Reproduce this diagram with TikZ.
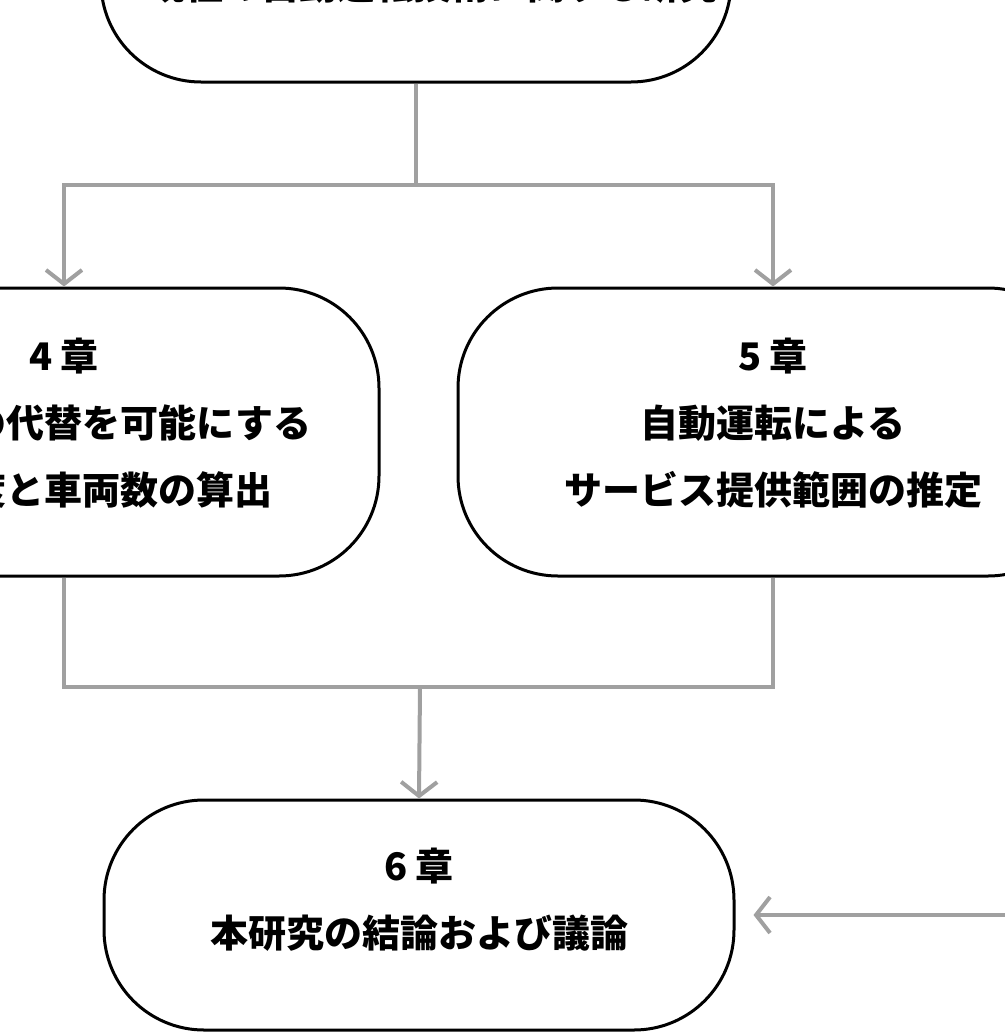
\documentclass[tikz,border=0pt]{standalone}
\usepackage{fontspec}
\usepackage{tikz}
\usetikzlibrary{arrows.meta,positioning}
\newfontfamily\cjk{Noto Sans CJK JP}
\definecolor{flowgray}{RGB}{160,160,160}

\tikzset{
	chap/.style={draw,line width=3pt,rounded corners=100pt,minimum width=630pt,minimum height=288pt,
		align=center,text depth=21pt,font=\cjk\bfseries\fontsize{38}{67}\selectfont},
	flow/.style={draw=flowgray,line width=4pt},
	tip/.style={-{Straight Barb[length=14pt,width=36pt]}}
}

\begin{document}
\begin{tikzpicture}[x=1pt,y=-1pt]
	\useasboundingbox (0,0) rectangle (1004,1036);
	\node[chap] (ch3) at (416,-62) {};
	\node[font=\cjk\bfseries\fontsize{38}{67}\selectfont] (ch3text) at (432,-15) {既往の自動運転技術に関する研究};
	\node[chap] (ch4) at (64,432) {4 章\\路線バスの代替を可能にする\\運行頻度と車両数の算出};
	\node[chap] (ch5) at (773,432) {5 章\\自動運転による\\サービス提供範囲の推定};
	\node[chap,minimum height=230pt,text depth=35pt] (ch6) at (419,915) {6 章\\本研究の結論および議論};
	\coordinate (fork) at (416,185);
	\coordinate (join) at (420,687);
	\coordinate (feed) at (1012,915);
	\draw[flow] (ch3.south) -- (fork);
	\draw[flow,tip] (fork) -| (ch4.north);
	\draw[flow,tip] (fork) -| (ch5.north);
	\draw[flow] (ch4.south) |- (join) -| (ch5.south);
	\draw[flow,tip] (join) -- (ch6.north);
	\draw[flow,tip,shorten >=18pt] (feed) -- (ch6.east);
\end{tikzpicture}
\end{document}
